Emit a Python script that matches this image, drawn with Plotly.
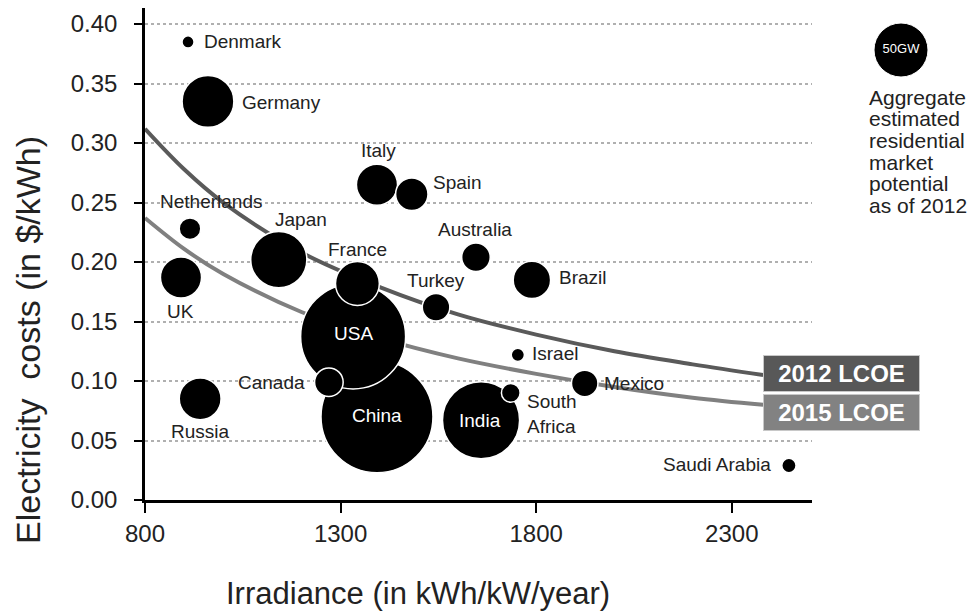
import plotly.graph_objects as go

# ---------------- data ----------------
countries = ["China", "India", "USA", "France", "Canada", "South Africa", "Italy", "Spain",
             "Denmark", "Germany", "Netherlands", "Japan", "Australia", "Brazil", "UK",
             "Turkey", "Israel", "Mexico", "Russia", "Saudi Arabia"]
irradiance = [1393, 1659, 1332, 1343, 1270, 1735, 1393, 1482,
              910, 961, 915, 1142, 1646, 1789, 892,
              1544, 1753, 1924, 941, 2446]
elec_cost = [0.070, 0.067, 0.1375, 0.182, 0.099, 0.090, 0.265, 0.257,
             0.385, 0.335, 0.228, 0.202, 0.204, 0.185, 0.187,
             0.162, 0.122, 0.098, 0.085, 0.029]
market_gw = [215, 102, 189, 33, 14, 6, 29, 18,
             2.5, 46, 8, 54, 14, 24, 29,
             13, 3, 12, 30, 3.5]

lcoe_x = [800, 900, 1000, 1200, 1400, 1600, 1800, 2000, 2200, 2380]
lcoe_2012 = [0.312, 0.278, 0.250, 0.208, 0.179, 0.156, 0.139, 0.125, 0.114, 0.105]
lcoe_2015 = [0.237, 0.211, 0.190, 0.158, 0.136, 0.119, 0.106, 0.095, 0.086, 0.080]

legend_gw = [50]
legend_lines = ["Aggregate", "estimated", "residential", "market", "potential", "as of 2012"]
x_ticks = [800, 1300, 1800, 2300]
y_ticks = [0.00, 0.05, 0.10, 0.15, 0.20, 0.25, 0.30, 0.35, 0.40]

# ---------------- label placement (style) ----------------
# (xanchor, dx px, dy px down, color)
label_place = {
    "China": ("center", 0, -1, "white"),
    "India": ("center", -1, 0, "white"),
    "USA": ("center", 0, -3, "white"),
    "France": ("center", 0, -34, "#222"),
    "Canada": ("right", -22, 0, "#222"),
    "South Africa": ("left", 14, 21, "#222"),
    "Italy": ("center", 2, -34, "#222"),
    "Spain": ("left", 19, -12, "#222"),
    "Denmark": ("left", 14, 0, "#222"),
    "Germany": ("left", 32, 1, "#222"),
    "Netherlands": ("center", 21, -27, "#222"),
    "Japan": ("center", 22, -40, "#222"),
    "Australia": ("center", -1, -28, "#222"),
    "Brazil": ("left", 25, -2, "#222"),
    "UK": ("center", 0, 34, "#222"),
    "Turkey": ("center", 0, -27, "#222"),
    "Israel": ("left", 12, -1, "#222"),
    "Mexico": ("left", 17, 0, "#222"),
    "Russia": ("center", 0, 33, "#222"),
    "Saudi Arabia": ("right", -16, -1, "#222"),
}
label_text = {"South Africa": "South<br>Africa"}

FONT = "Liberation Sans, Arial, sans-serif"
SIZEREF = 100.0 / (54 ** 2)

L, R_PX, T, B = 145, 0, 8, 115
W, H = 975, 615
plot_w = W - L - R_PX
plot_h = H - T - B
main_right = 812
xdom_main = (main_right - L) / plot_w


def px_x(p):
    return (p - L) / plot_w


def px_y(p):
    return (H - B - p) / plot_h


fig = go.Figure()

fig.add_trace(go.Scatter(x=lcoe_x, y=lcoe_2012, mode="lines", line=dict(color="#5a5a5a", width=4, shape="spline"),
                         hoverinfo="skip", showlegend=False))
fig.add_trace(go.Scatter(x=lcoe_x, y=lcoe_2015, mode="lines", line=dict(color="#808080", width=4, shape="spline"),
                         hoverinfo="skip", showlegend=False))

fig.add_trace(go.Scatter(
    x=irradiance, y=elec_cost, mode="markers", text=countries,
    marker=dict(size=market_gw, sizemode="area", sizeref=SIZEREF, color="black",
                line=dict(color="white", width=1.5), opacity=1),
    cliponaxis=False, showlegend=False))

# legend bubble on its own small axes
fig.add_trace(go.Scatter(
    x=[0], y=[0], mode="markers+text", text=["50GW"], textposition="middle center",
    textfont=dict(color="white", size=13, family=FONT),
    marker=dict(size=legend_gw, sizemode="area", sizeref=SIZEREF, color="black", opacity=1),
    xaxis="x2", yaxis="y2", cliponaxis=False, showlegend=False))

annotations = []
for c, xv, yv in zip(countries, irradiance, elec_cost):
    anc, dx, dy, col = label_place[c]
    annotations.append(dict(
        x=xv, y=yv, xref="x", yref="y", text=label_text.get(c, c), showarrow=False,
        xanchor=anc, yanchor="middle", xshift=dx, yshift=-dy, align="left",
        font=dict(family=FONT, size=19, color=col)))

# LCOE label boxes
annotations.append(dict(x=lcoe_x[-1], y=lcoe_2012[-1], xref="x", yref="y", text="<b>2012 LCOE</b>",
                        showarrow=False, xanchor="left", yanchor="middle", yshift=2,
                        width=153, height=33, bgcolor="#585858", bordercolor="#c8c8c8", borderwidth=1,
                        font=dict(family=FONT, size=24, color="white")))
annotations.append(dict(x=lcoe_x[-1], y=lcoe_2015[-1], xref="x", yref="y", text="<b>2015 LCOE</b>",
                        showarrow=False, xanchor="left", yanchor="middle", yshift=-8,
                        width=153, height=33, bgcolor="#828282", bordercolor="#c8c8c8", borderwidth=1,
                        font=dict(family=FONT, size=24, color="white")))

# legend text, one line at a time (tight line spacing)
for i, line in enumerate(legend_lines):
    annotations.append(dict(x=px_x(867), y=px_y(97 + 21.7 * i), xref="paper", yref="paper",
                            text=line, showarrow=False, xanchor="left", yanchor="middle",
                            font=dict(family=FONT, size=21, color="#222")))

# axis titles
annotations.append(dict(x=px_x(28), y=px_y(340), xref="paper", yref="paper",
                        text="Electricity\u00a0 costs (in $/kWh)", textangle=-90, showarrow=False,
                        xanchor="center", yanchor="middle",
                        font=dict(family=FONT, size=34, color="#222")))
annotations.append(dict(x=px_x(418), y=px_y(593), xref="paper", yref="paper",
                        text="Irradiance (in kWh/kW/year)", showarrow=False,
                        xanchor="center", yanchor="middle",
                        font=dict(family=FONT, size=31, color="#222")))

fig.update_layout(
    width=W, height=H,
    margin=dict(l=L, r=R_PX, t=T, b=B),
    paper_bgcolor="white", plot_bgcolor="white",
    font=dict(family=FONT, color="#222"),
    annotations=annotations,
    xaxis=dict(domain=[0, xdom_main], range=[800, 2505], tickvals=x_ticks,
               showline=True, linecolor="black", linewidth=3, ticks="outside", ticklen=10,
               tickwidth=2, tickcolor="black", showgrid=False, zeroline=False,
               tickfont=dict(size=24, family=FONT, color="#222"), ticklabelstandoff=0),
    yaxis=dict(range=[0, 0.4135], tickvals=y_ticks, tickformat=".2f",
               showline=True, linecolor="black", linewidth=2.5, ticks="outside", ticklen=8,
               tickwidth=2, tickcolor="black", showgrid=True, gridcolor="#b0b0b0",
               griddash="dot", gridwidth=1.5, zeroline=False,
               tickfont=dict(size=24, family=FONT, color="#222"), ticklabelstandoff=12),
    xaxis2=dict(domain=[px_x(860), 1], range=[-41, 74], visible=False, anchor="y2"),
    yaxis2=dict(domain=[0, 1], range=[-(plot_h - 42), 42], visible=False, anchor="x2"),
)

fig.write_html("out.html", config={"displayModeBar": False},
               post_script="document.body.style.margin='0';document.body.style.padding='0';")
